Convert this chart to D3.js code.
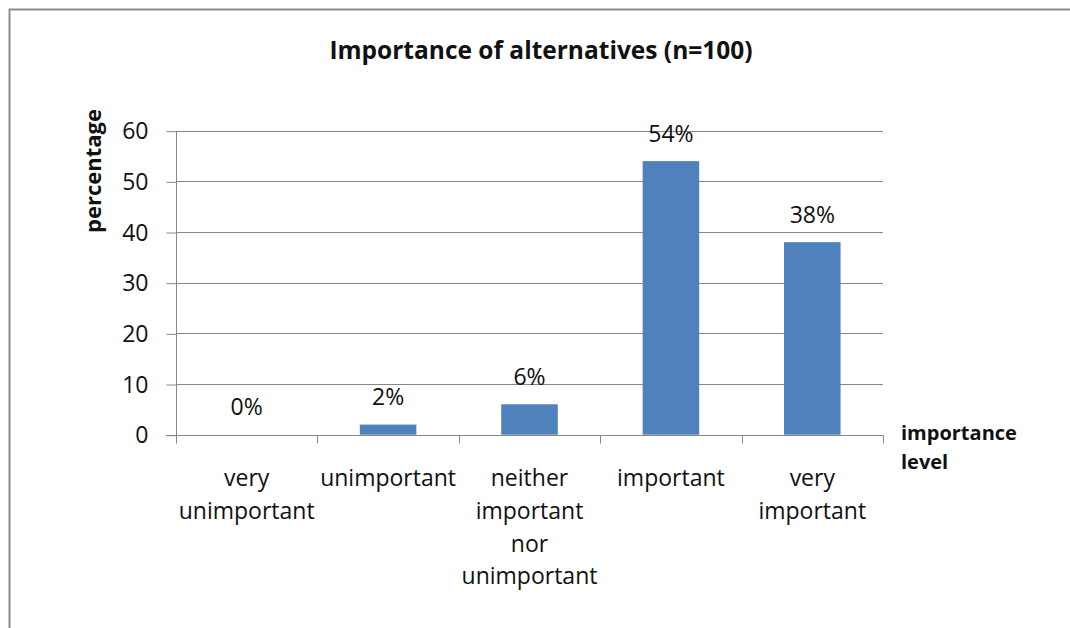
<!DOCTYPE html>
<html>
<head>
<meta charset="utf-8">
<script src="https://cdn.jsdelivr.net/npm/d3@7"></script>
<style>
  html, body { margin: 0; padding: 0; background: #fff; }
  svg { display: block; }
  text { font-family: "Open Sans", "Noto Sans", sans-serif; fill: #111; }
</style>
</head>
<body>
<svg id="chart" width="1070" height="628"></svg>
<script>
// ---- data ----
const categories = ["very unimportant", "unimportant", "neither important nor unimportant", "important", "very important"];
const values = [0, 2, 6, 54, 38];
const valueLabels = ["0%", "2%", "6%", "54%", "38%"];
const yTicks = [0, 10, 20, 30, 40, 50, 60];
const title = "Importance of alternatives (n=100)";
const yTitle = "percentage";
const xTitleLines = ["importance", "level"];

// ---- layout ----
const W = 1070, H = 628;
const plot = { left: 176, right: 883, top: 130.7, bottom: 434.7 };
const labelSize = 23;
const svg = d3.select("#chart");

// outer border
svg.append("rect")
  .attr("x", 9.5).attr("y", 9.5)
  .attr("width", 1200).attr("height", 800)
  .attr("fill", "#fff").attr("stroke", "#8c8c8c").attr("stroke-width", 2);

const x = d3.scaleBand()
  .domain(categories)
  .range([plot.left, plot.right])
  .paddingInner(0.6)
  .paddingOuter(0.3);

const y = d3.scaleLinear()
  .domain([0, 60])
  .range([plot.bottom, plot.top]);

const gridColor = "#868686";

// gridlines
svg.append("g")
  .selectAll("line")
  .data(yTicks.filter(d => d > 0))
  .join("line")
  .attr("x1", plot.left).attr("x2", plot.right)
  .attr("y1", d => Math.round(y(d)) + 0.5).attr("y2", d => Math.round(y(d)) + 0.5)
  .attr("stroke", gridColor).attr("stroke-width", 1);

// y axis
const yAxis = svg.append("g")
  .attr("transform", `translate(${plot.left + 0.5},0)`)
  .call(d3.axisLeft(y).tickValues(yTicks).tickSize(10).tickPadding(18).tickSizeOuter(0));
yAxis.selectAll("path, line").attr("stroke", gridColor);
yAxis.select(".domain").attr("d", `M0,${plot.top}V${plot.bottom + 8}`);
yAxis.selectAll("line").attr("transform", "translate(0,0.5)");
yAxis.selectAll("text")
  .attr("font-family", "Open Sans")
  .attr("font-size", labelSize)
  .attr("fill", "#111")
  .attr("dy", "0.36em");

// bars
svg.append("g")
  .selectAll("rect")
  .data(values)
  .join("rect")
  .attr("x", (d, i) => x(categories[i]))
  .attr("width", x.bandwidth())
  .attr("y", d => y(d))
  .attr("height", d => y(0) - y(d))
  .attr("fill", "#4F81BD");

// x axis line (zero line) and tick marks at band boundaries
const zeroY = Math.round(y(0)) + 0.5;
svg.append("line")
  .attr("x1", plot.left - 10).attr("x2", plot.right)
  .attr("y1", zeroY).attr("y2", zeroY)
  .attr("stroke", gridColor);
const boundaries = d3.range(categories.length + 1).map(i => plot.left + i * x.step());
svg.append("g")
  .selectAll("line")
  .data(boundaries)
  .join("line")
  .attr("x1", d => Math.round(d) + 0.5).attr("x2", d => Math.round(d) + 0.5)
  .attr("y1", zeroY).attr("y2", zeroY + 8)
  .attr("stroke", gridColor);

// category labels (wrapped to band step)
const catG = svg.append("g");
function wrapWords(text, maxW, measurer) {
  const words = text.split(" ");
  const lines = [];
  let cur = "";
  words.forEach(w => {
    const t = cur ? cur + " " + w : w;
    measurer.text(t);
    if (cur && measurer.node().getComputedTextLength() > maxW) {
      lines.push(cur); cur = w;
    } else cur = t;
  });
  if (cur) lines.push(cur);
  return lines;
}
const measurer = svg.append("text").attr("font-size", labelSize).attr("visibility", "hidden");
categories.forEach(c => {
  const lines = wrapWords(c, x.step() - 4, measurer);
  const cx = x(c) + x.bandwidth() / 2;
  const t = catG.append("text")
    .attr("text-anchor", "middle")
    .attr("font-size", labelSize)
    .attr("x", cx)
    .attr("y", 478);
  lines.forEach((ln, j) => {
    t.append("tspan")
      .attr("x", cx)
      .attr("y", 478 + j * 32.7)
      .attr("dy", "0.36em")
      .text(ln);
  });
});
measurer.remove();

// value labels
svg.append("g")
  .selectAll("text")
  .data(values)
  .join("text")
  .attr("text-anchor", "middle")
  .attr("font-size", labelSize)
  .attr("x", (d, i) => x(categories[i]) + x.bandwidth() / 2)
  .attr("y", d => y(d) - 27.5)
  .attr("dy", "0.36em")
  .text((d, i) => valueLabels[i]);

// title
svg.append("text")
  .attr("x", 541).attr("y", 50)
  .attr("dy", "0.36em")
  .attr("text-anchor", "middle")
  .attr("font-size", 24.5)
  .attr("font-weight", "bold")
  .attr("fill", "#000")
  .text(title);

// y title
svg.append("text")
  .attr("transform", "translate(93,171) rotate(-90)")
  .attr("dy", "0.36em")
  .attr("text-anchor", "middle")
  .attr("font-size", 22)
  .attr("font-weight", "bold")
  .attr("fill", "#000")
  .text(yTitle);

// x title
svg.append("g")
  .selectAll("text")
  .data(xTitleLines)
  .join("text")
  .attr("x", 901)
  .attr("y", (d, i) => 433 + i * 28.7)
  .attr("dy", "0.36em")
  .attr("font-size", 20)
  .attr("font-weight", "bold")
  .attr("fill", "#000")
  .text(d => d);
</script>
</body>
</html>
